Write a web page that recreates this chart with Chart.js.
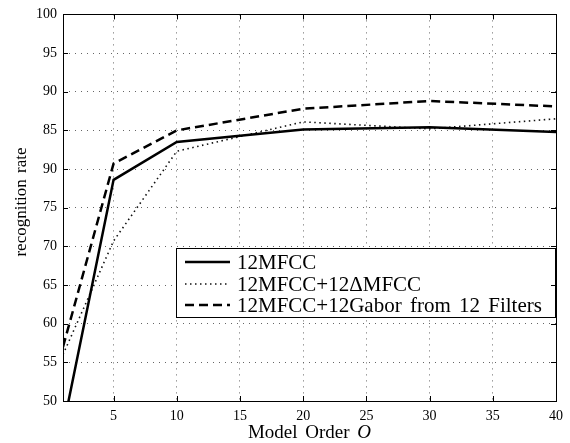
<!DOCTYPE html>
<html>
<head>
<meta charset="utf-8">
<script src="https://cdn.jsdelivr.net/npm/chart.js@4.4.1/dist/chart.umd.min.js"></script>
<style>
html,body{margin:0;padding:0;background:#fff;}
</style>
</head>
<body>
<canvas id="chart" width="570" height="443"></canvas>
<script>

/* Data */

const modelOrder=[1,5,10,20,30,40];

const mfcc=[46.5,78.6,83.5,85.1,85.4,84.8];
const mfccDelta=[56.0,70.7,82.3,86.1,85.2,86.5];
const mfccGabor=[57.0,80.7,85.0,87.8,88.8,88.1];

const seriesNames=["12MFCC","12MFCC+12\u0394MFCC","12MFCC+12Gabor from 12 Filters"];

const xTicks=[5,10,15,20,25,30,35,40];
const yTicks=[50,55,60,65,70,75,80,85,90,95,100];
// the original figure prints "90" at the 80 line
const yTickLabels=["50","55","60","65","70","75","90","85","90","95","100"];

const serif='"Liberation Serif", "Times New Roman", serif';

function points(values){
return values.map((v,i)=>({x:modelOrder[i],y:v}));
}

/* Frame with inward ticks, like the matlab axes, plus the axis titles */

const frame={
id:"frame",
afterDraw(chart){
const ctx=chart.ctx, a=chart.chartArea;
const xs=chart.scales.x, ys=chart.scales.y;
ctx.save();
ctx.strokeStyle="#000";
ctx.lineWidth=1;
ctx.setLineDash([]);
ctx.strokeRect(Math.round(a.left)+0.5,Math.round(a.top)+0.5,Math.round(a.right-a.left),Math.round(a.bottom-a.top));
ctx.beginPath();
xTicks.forEach(v=>{
const px=Math.round(xs.getPixelForValue(v))+0.5;
ctx.moveTo(px,a.bottom);ctx.lineTo(px,a.bottom-5);
ctx.moveTo(px,a.top);ctx.lineTo(px,a.top+5);
});
yTicks.forEach(v=>{
const py=Math.round(ys.getPixelForValue(v))+0.5;
ctx.moveTo(a.left,py);ctx.lineTo(a.left+5,py);
ctx.moveTo(a.right,py);ctx.lineTo(a.right-5,py);
});
ctx.stroke();

ctx.fillStyle="#000";
ctx.textBaseline="middle";

/* x title with italic O */
const y=433;
ctx.wordSpacing="3px";
ctx.font="19px "+serif;
const t1="Model Order ";
const w1=ctx.measureText(t1).width;
ctx.font="italic 19px "+serif;
const w2=ctx.measureText("O").width;
let x=(a.left+a.right)/2-(w1+w2)/2;
ctx.font="19px "+serif;
ctx.fillText(t1,x,y);
ctx.font="italic 19px "+serif;
ctx.fillText("O",x+w1,y);

/* y title */
ctx.wordSpacing="2px";
ctx.font="17px "+serif;
ctx.textAlign="center";
ctx.translate(22,202);
ctx.rotate(-Math.PI/2);
ctx.fillText("recognition rate",0,0);
ctx.restore();
}
};

/* Legend box inside the plot */

const legendBox={
id:"legendBox",
afterDatasetsDraw(chart){
const ctx=chart.ctx, a=chart.chartArea;
const left=176, top=248, right=Math.round(a.right)-1, bottom=317;
ctx.save();
ctx.fillStyle="#fff";
ctx.fillRect(left,top,right-left,bottom-top);
ctx.strokeStyle="#000";
ctx.lineWidth=1;
ctx.setLineDash([]);
ctx.strokeRect(left+0.5,top+0.5,right-left,bottom-top);
ctx.font="21px "+serif;
ctx.wordSpacing="3px";
ctx.textBaseline="middle";
chart.data.datasets.forEach((ds,i)=>{
const y=Math.round(top+14+i*21.7);
ctx.strokeStyle=ds.borderColor;
ctx.lineWidth=ds.borderWidth;
ctx.setLineDash(ds.borderDash||[]);
ctx.beginPath();
ctx.moveTo(left+9,y);ctx.lineTo(left+54,y);
ctx.stroke();
ctx.fillStyle="#000";
ctx.fillText(ds.label,left+61,y+1);
});
ctx.restore();
}
};

const chart=new Chart(document.getElementById("chart"),{
type:"line",
data:{
datasets:[{
label:seriesNames[0],
data:points(mfcc),
borderColor:"#000",
borderWidth:2.5,
clip:0
},{
label:seriesNames[1],
data:points(mfccDelta),
borderColor:"#111",
borderWidth:1.6,
borderDash:[1.5,3.5],
clip:0
},{
label:seriesNames[2],
data:points(mfccGabor),
borderColor:"#000",
borderWidth:2.5,
borderDash:[9,5],
clip:0
}]
},
options:{
responsive:false,
devicePixelRatio:1,
animation:false,
elements:{point:{radius:0},line:{tension:0}},
layout:{padding:{top:13,right:14,left:0,bottom:0}},
plugins:{legend:{display:false},tooltip:{enabled:false}},
scales:{
x:{
type:"linear",
min:1,max:40,
afterBuildTicks:s=>{s.ticks=xTicks.map(v=>({value:v}));},
afterFit:s=>{s.height=42;},
grid:{color:"#666",drawTicks:false,lineWidth:1},
border:{display:false,dash:[1,5]},
ticks:{color:"#000",font:{family:serif,size:14},padding:7,maxRotation:0}
},
y:{
min:50,max:100,
afterBuildTicks:s=>{s.ticks=yTicks.map(v=>({value:v}));},
afterFit:s=>{s.width=63;},
grid:{color:"#666",drawTicks:false,lineWidth:1},
border:{display:false,dash:[1,5]},
ticks:{color:"#000",font:{family:serif,size:14},padding:6,
callback:v=>yTickLabels[yTicks.indexOf(v)]}
}
}
},
plugins:[legendBox,frame]
});

</script>
</body>
</html>
